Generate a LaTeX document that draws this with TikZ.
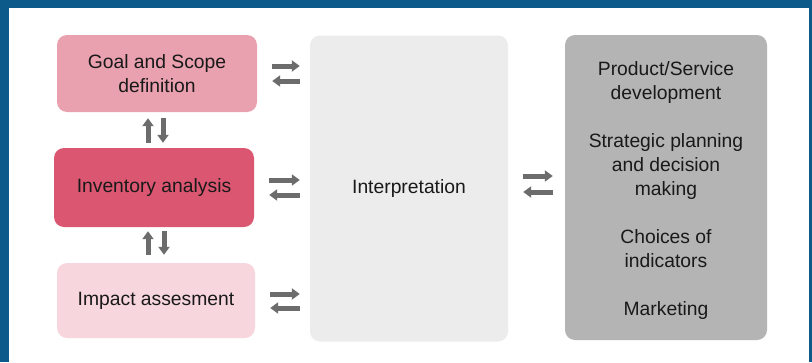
\documentclass[tikz,border=0pt]{standalone}
\usepackage{fontspec}
\setmainfont{Liberation Sans}
\usetikzlibrary{
    arrows.meta,
    positioning,
    calc
}
\definecolor{frameblue}{RGB}{12, 90, 138}
\definecolor{goalpink}{RGB}{233, 160, 175}
\definecolor{invred}{RGB}{219, 86, 112}
\definecolor{impactpink}{RGB}{248, 214, 222}
\definecolor{interpgray}{RGB}{236, 236, 236}
\definecolor{usegray}{RGB}{180, 180, 180}
\definecolor{arrowgray}{RGB}{108, 108, 108}

\begin{document}
\begin{tikzpicture}[
        x=1pt, y=-1pt,
        box/.style={rectangle, rounded corners=10pt, inner sep=0pt, align=center, text=black!90, font=\fontsize{19.3}{24}\selectfont},
        arrow/.style={-{Triangle[length=8pt, width=11pt]}, line width=5pt, draw=arrowgray}
    ]
        % Frame
        \fill[frameblue] (0,0) rectangle (812,362);
        \fill[white] (9,8) rectangle (809,362);

        % Left column: phases
        \node[box, fill=goalpink, minimum width=200pt, minimum height=77pt] (goal) at (157,73.5) {Goal and Scope\\definition};
        \node[box, fill=invred, minimum width=200pt, minimum height=79pt] (inv) at (154,187.5) {Inventory analysis};
        \node[box, fill=impactpink, minimum width=198pt, minimum height=75pt] (impact) at (156,300.5) {Impact assesment};

        % Middle: interpretation
        \node[box, fill=interpgray, minimum width=198pt, minimum height=306pt] (interp) at (409,188.5) {Interpretation};

        % Right: applications
        \node[box, fill=usegray, minimum width=202pt, minimum height=305pt] (uses) at (666,187.5) {};
        \node[box] (usestext) at ([yshift=-3pt]uses.center) {Product/Service\\development\\[24pt]Strategic planning\\and decision\\making\\[24pt]Choices of\\indicators\\[24pt]Marketing};

        % Arrows left -> interpretation
        \draw[arrow, shorten <=15pt, shorten >=10pt] ([yshift=7.5pt]goal.east) -- ([yshift=7.5pt]goal.east -| interp.west);
        \draw[arrow, shorten <=10pt, shorten >=15pt] ([yshift=-7.5pt]goal.east -| interp.west) -- ([yshift=-7.5pt]goal.east);
        \draw[arrow, shorten <=15pt, shorten >=10pt] ([yshift=7.5pt]inv.east) -- ([yshift=7.5pt]inv.east -| interp.west);
        \draw[arrow, shorten <=10pt, shorten >=15pt] ([yshift=-7.5pt]inv.east -| interp.west) -- ([yshift=-7.5pt]inv.east);
        \draw[arrow, shorten <=15pt, shorten >=10pt] ([yshift=6.5pt]impact.east) -- ([yshift=6.5pt]impact.east -| interp.west);
        \draw[arrow, shorten <=10pt, shorten >=15pt] ([yshift=-7.5pt]impact.east -| interp.west) -- ([yshift=-7.5pt]impact.east);

        % Arrows interpretation -> applications
        \draw[arrow, shorten <=15pt, shorten >=12pt] ([yshift=12.5pt]interp.east) -- ([yshift=12.5pt]interp.east -| uses.west);
        \draw[arrow, shorten <=12pt, shorten >=15pt] ([yshift=-3.5pt]interp.east -| uses.west) -- ([yshift=-3.5pt]interp.east);

        % Vertical arrows
        \draw[arrow, shorten <=5pt, shorten >=6pt] ([xshift=-9pt]goal.south |- inv.north) -- ([xshift=-9pt]goal.south);
        \draw[arrow, shorten <=6pt, shorten >=5pt] ([xshift=6pt]goal.south) -- ([xshift=6pt]goal.south |- inv.north);
        \draw[arrow, shorten <=8pt, shorten >=4pt] ([xshift=-8pt]impact.north) -- ([xshift=-8pt]impact.north |- inv.south);
        \draw[arrow, shorten <=4pt, shorten >=8pt] ([xshift=8pt]impact.north |- inv.south) -- ([xshift=8pt]impact.north);
    \end{tikzpicture}
\end{document}
